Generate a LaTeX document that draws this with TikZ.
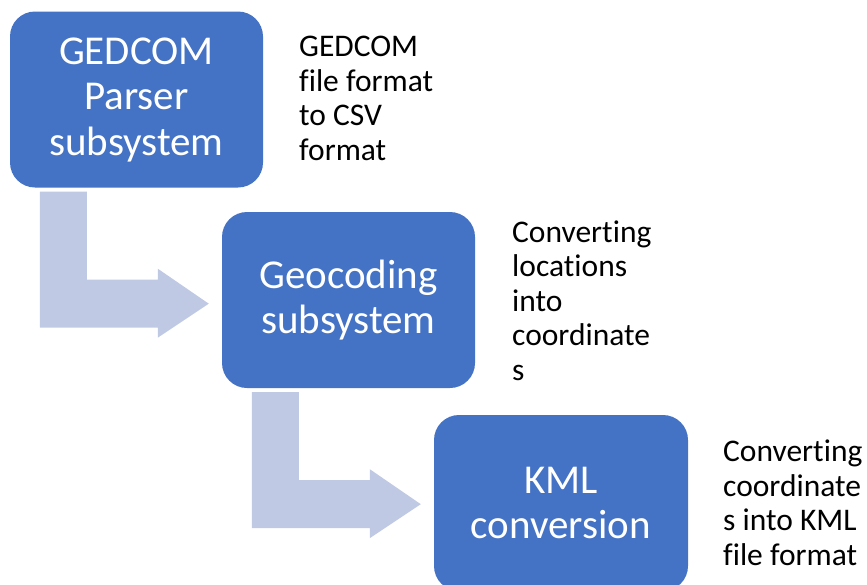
\documentclass[tikz,border=0pt]{standalone}
\usepackage{fontspec}
\setmainfont{Carlito}[Ligatures=NoCommon]
\usetikzlibrary{calc}
\definecolor{boxblue}{HTML}{4472C4}
\definecolor{arrowblue}{HTML}{BFC9E3}
\tikzset{
  stagebox/.style={fill=boxblue, draw=none, rounded corners=25pt, inner sep=0pt,
    minimum width=253pt, minimum height=176pt, align=center, text=white,
    font=\fontsize{41}{45.5}\selectfont},
  notetext/.style={anchor=base west, inner sep=0pt, align=left, text=black,
    font=\fontsize{31.5}{34.5}\selectfont},
  bentarrow/.style={fill=arrowblue, draw=none}
}
\begin{document}
\begin{tikzpicture}[x=1pt,y=-1pt]
\useasboundingbox (0,0) rectangle (867,584);
\node[stagebox] (b1) at (136.5,99.5) {GEDCOM\\Parser\\subsystem};
\node[stagebox] (b2) at (348.5,300) {Geocoding\\subsystem};
\node[stagebox, minimum width=254pt] (b3) at (561,503) {KML\\conversion};
\node[notetext] (t1) at (299,160) {GEDCOM\\file format\\to CSV\\format};
\node[notetext] (t2) at (512,380) {Converting\\locations\\into\\coordinate\\s};
\node[notetext] (t3) at (723,565) {Converting\\coordinate\\s into KML\\file format};
\fill[bentarrow] ($(b1.south west)+(30,4)$) -- ++(47,0) -- ++(0,88) -- ++(71,0)
  -- ++(0,-11) -- ++(51,35) -- ++(-51,34) -- ++(0,-10) -- ++(-118,0) -- cycle;
\fill[bentarrow] ($(b2.south west)+(30,4)$) -- ++(47,0) -- ++(0,88) -- ++(71,0)
  -- ++(0,-11) -- ++(51,35) -- ++(-51,34) -- ++(0,-10) -- ++(-118,0) -- cycle;
\end{tikzpicture}
\end{document}
